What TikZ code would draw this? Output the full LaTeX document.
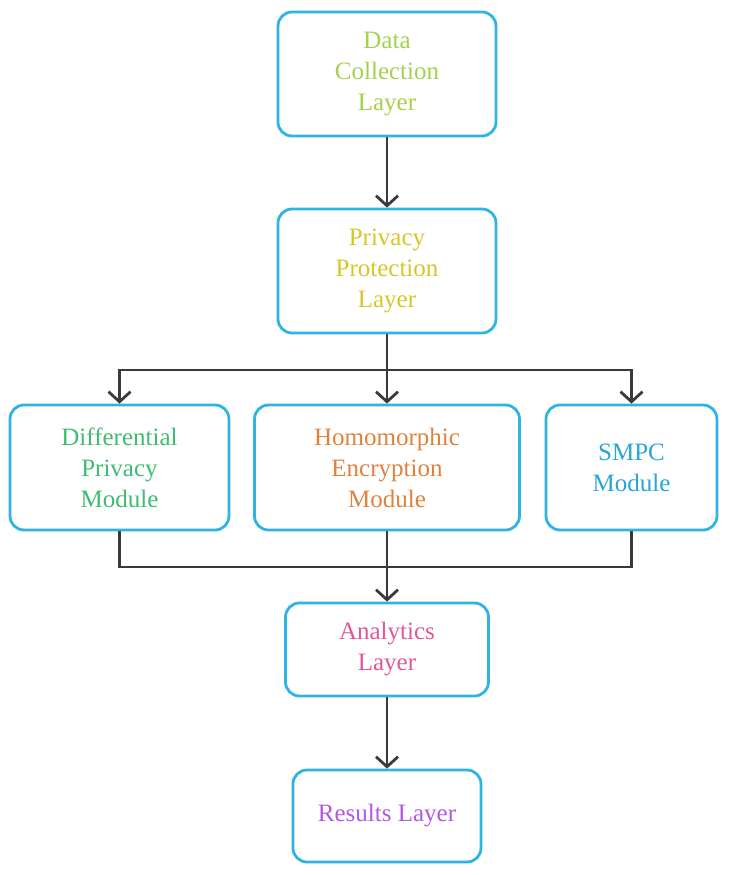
\documentclass[tikz,border=0pt]{standalone}
\usepackage{fontspec}
\setmainfont{Liberation Serif}
\newfontfamily\layerfont{Liberation Serif}
\usetikzlibrary{arrows.meta}

\definecolor{boxblue}{HTML}{2EB4E3}
\definecolor{linegray}{HTML}{3A3A3A}
\definecolor{txtdata}{HTML}{A5D04C}
\definecolor{txtpriv}{HTML}{D6C724}
\definecolor{txtdiff}{HTML}{3EBD72}
\definecolor{txthomo}{HTML}{E0823C}
\definecolor{txtsmpc}{HTML}{2AA6D6}
\definecolor{txtanal}{HTML}{E0589C}
\definecolor{txtres}{HTML}{B358E0}

\begin{document}
\begin{tikzpicture}[
  x=1pt, y=-1pt,
  font=\layerfont\fontsize{25}{31}\selectfont,
  layer/.style={draw=boxblue, line width=2.8pt, rounded corners=14pt, align=center, inner sep=0pt},
  link/.style={draw=linegray, line width=2.8pt},
  arr/.style={link, -{Straight Barb[length=10pt, width=22pt]}}
]
\useasboundingbox (0,0) rectangle (729,875);

% --- Camadas ---
\node[layer, minimum width=218pt, minimum height=124pt, text=txtdata] (data) at (387,74) {Data\\Collection\\Layer};
\node[layer, minimum width=218pt, minimum height=124pt, text=txtpriv] (priv) at (387,271) {Privacy\\Protection\\Layer};

% --- Modulos ---
\node[layer, minimum width=219pt, minimum height=125pt, text=txtdiff] (diff) at (119.5,467.5) {Differential\\Privacy\\Module};
\node[layer, minimum width=265pt, minimum height=125pt, text=txthomo] (homo) at (387,467.5) {Homomorphic\\Encryption\\Module};
\node[layer, minimum width=171pt, minimum height=125pt, text=txtsmpc] (smpc) at (631.5,467.5) {SMPC\\Module};

% --- Analise e resultados ---
\node[layer, minimum width=203pt, minimum height=93pt, text=txtanal] (anal) at (387,649.5) {Analytics\\Layer};
\node[layer, minimum width=188pt, minimum height=92pt, text=txtres] (res) at (387,816) {Results Layer};

% --- Pontos de ramificacao ---
\coordinate (split) at (387,370);
\coordinate (merge) at (387,567);

% --- Conexoes ---
\draw[arr] (data) -- (priv);
\draw[link] (priv) -- (split);
\draw[arr] (split) -| (diff);
\draw[arr] (split) -- (homo);
\draw[arr] (split) -| (smpc);
\draw[link] (diff) |- (merge);
\draw[link] (smpc) |- (merge);
\draw[link] (homo) -- (merge);
\draw[arr] (merge) -- (anal);
\draw[arr] (anal) -- (res);

\end{tikzpicture}
\end{document}
